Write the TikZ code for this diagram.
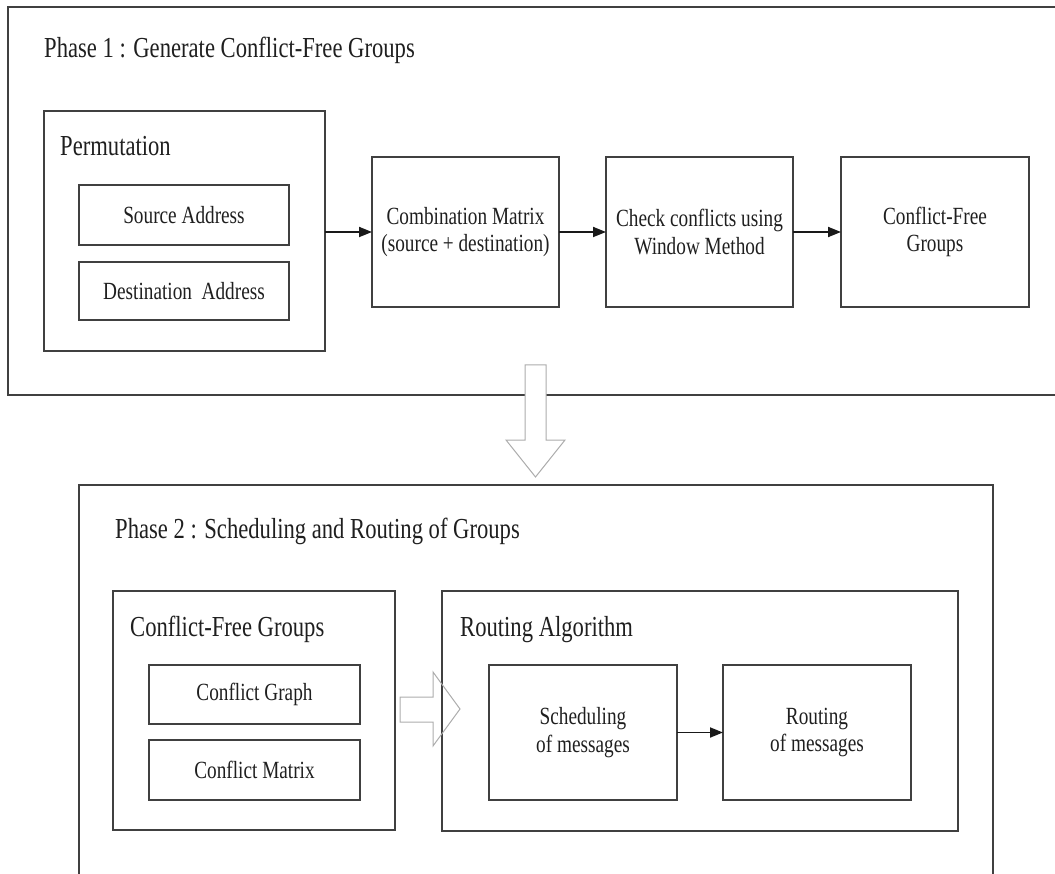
\documentclass[tikz,border=0pt]{standalone}
\usepackage{fontspec}
\setmainfont[FakeStretch=0.78]{Liberation Serif}
\usetikzlibrary{arrows.meta}
\begin{document}
\begin{tikzpicture}[x=1pt,y=-1pt,
  frame/.style={draw=black!75, line width=1.8pt, inner sep=0pt, outer sep=0pt},
  title/.style={font=\fontsize{29}{32}\selectfont, text=black!88, inner sep=0pt, anchor=base west},
  label/.style={font=\fontsize{24.7}{27.5}\selectfont, text=black!88, inner sep=0pt, align=center},
  flow/.style={draw=black!90, line width=1.8pt, -{Triangle[length=13pt,width=10pt]}},
  hollow/.style={draw=gray!65, line width=1pt, line join=miter}]
\useasboundingbox (0,0) rectangle (1055,874);
\clip (0,0) rectangle (1055,874);

% ---------------- Phase 1 ----------------
\node[frame, minimum width=1067pt, minimum height=388pt] (phaseone) at (541.5,201) {};
\node[title] (phaseonet) at (44,58) {Phase 1 : Generate Conflict-Free Groups};

\node[frame, minimum width=281pt, minimum height=240pt] (perm) at (184.5,231) {};
\node[title] (permt) at (60,156) {Permutation};
\node[frame, label, minimum width=210pt, minimum height=60pt] (src) at (184,215) {Source Address};
\node[frame, label, minimum width=210pt, minimum height=58pt] (dst) at (184,291) {Destination~~Address};

\node[frame, label, minimum width=187pt, minimum height=150pt] (comb) at (465.5,232)
  {Combination Matrix\\(source + destination)};
\node[frame, label, minimum width=187pt, minimum height=150pt] (check) at (699.5,232)
  {Check conflicts using\\Window Method};
\node[frame, label, minimum width=188pt, minimum height=150pt] (cfg) at (935,232)
  {Conflict-Free\\Groups};

\draw[flow] (perm.east |- comb.west) -- (comb.west);
\draw[flow] (comb) -- (check);
\draw[flow] (check) -- (cfg);

% hollow arrow leading from phase 1 to phase 2
\draw[hollow, fill=white] (525,365) -- (546,365) -- (546,440) -- (565,440)
  -- (535.5,477) -- (506,440) -- (525,440) -- cycle;

% ---------------- Phase 2 ----------------
\node[frame, minimum width=914pt, minimum height=435pt] (phasetwo) at (536,702.5) {};
\node[title] (phasetwot) at (115,538) {Phase 2 : Scheduling and Routing of Groups};

\node[frame, minimum width=282pt, minimum height=239pt] (cfgroups) at (254,710.5) {};
\node[title] (cfgroupst) at (130,636) {Conflict-Free Groups};
\node[frame, label, minimum width=211pt, minimum height=59pt] (cgraph) at (254.5,694.5) {Conflict Graph};
\node[frame, label, minimum width=211pt, minimum height=60pt] (cmatrix) at (254.5,770) {Conflict Matrix};

\node[frame, minimum width=516pt, minimum height=240pt] (routalg) at (700,711) {};
\node[title] (routalgt) at (460,636) {Routing Algorithm};
\node[frame, label, minimum width=188pt, minimum height=135pt] (sched) at (583,732.5)
  {Scheduling\\of messages};
\node[frame, label, minimum width=188pt, minimum height=135pt] (routm) at (817,732.5)
  {Routing\\of messages};

\draw[flow] (sched) -- (routm);

% hollow arrow from the groups into the routing algorithm
\draw[hollow] (400,697) -- (433,697) -- (433,672) -- (460,709) -- (433,746)
  -- (433,722) -- (400,722) -- cycle;
\end{tikzpicture}
\end{document}
